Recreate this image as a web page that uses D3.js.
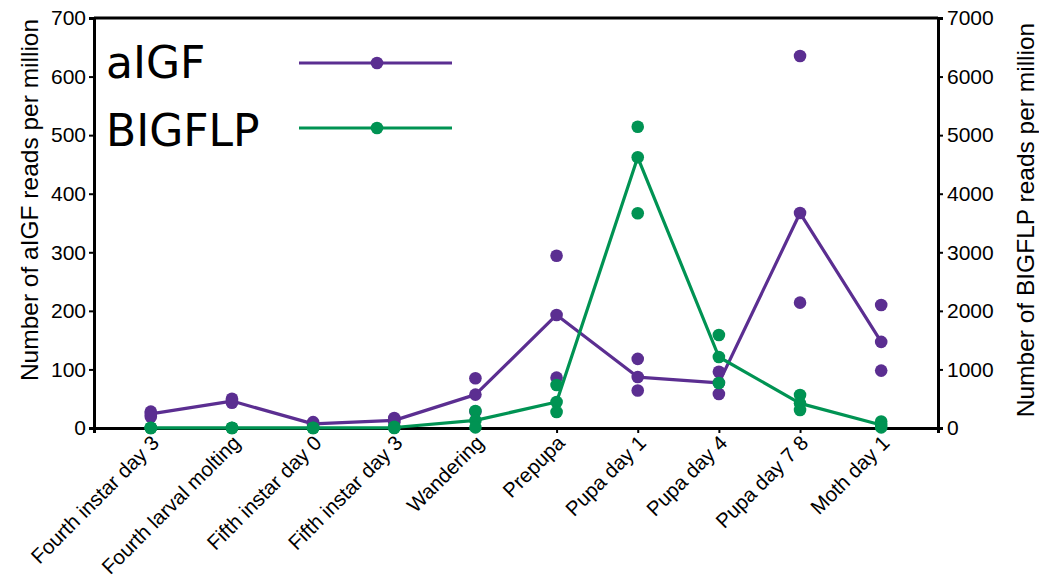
<!DOCTYPE html>
<html>
<head>
<meta charset="utf-8">
<script src="https://cdn.jsdelivr.net/npm/d3@7"></script>
<style>
  html, body { margin: 0; padding: 0; background: #fff; }
  svg { display: block; }
  .tick text { font-family: "Liberation Sans", Arial, sans-serif; font-size: 21px; fill: #000; }
  .x-axis .tick text { font-size: 20.5px; }
  .axis-title { font-family: "Liberation Sans", Arial, sans-serif; font-size: 24.5px; fill: #000; }
  .legend-label { font-family: "DejaVu Sans", sans-serif; font-size: 44px; fill: #000; }
</style>
</head>
<body>
<svg id="chart" width="1039" height="578"></svg>
<script>
// Developmental stages (x categories)
const stages = [
  "Fourth instar day 3", "Fourth larval molting", "Fifth instar day 0",
  "Fifth instar day 3", "Wandering", "Prepupa", "Pupa day 1",
  "Pupa day 4", "Pupa day 7 8", "Moth day 1"
];

// Replicate read counts per stage (reads per million)
const aigfReplicates = [
  [28, 24, 19], [50, 46, 43], [10, 7, 5], [17, 13, 10], [85, 57, 28],
  [294, 193, 86], [118, 87, 64], [96, 77, 58], [635, 367, 214], [210, 147, 98]
];
const bigflpReplicates = [
  [3, 1, 0], [3, 1, 0], [3, 1, 0], [20, 8, 0], [290, 130, 10],
  [734, 444, 273], [5144, 4622, 3666], [1588, 1212, 768], [563, 421, 307], [110, 50, 10]
];

// Axis tick values
const leftTicks = [0, 100, 200, 300, 400, 500, 600, 700];
const rightTicks = [0, 1000, 2000, 3000, 4000, 5000, 6000, 7000];

const purple = "#5b2e91";
const green = "#009353";

const svg = d3.select("#chart");
const plotLeft = 94, plotRight = 938, plotTop = 18, plotBottom = 428;

const x = d3.scalePoint().domain(stages).range([plotLeft, plotRight]).padding(0.7);
const yL = d3.scaleLinear().domain([0, 700]).range([plotBottom, plotTop]);
const yR = d3.scaleLinear().domain([0, 7000]).range([plotBottom, plotTop]);

// Frame top edge
svg.append("line")
  .attr("x1", plotLeft).attr("x2", plotRight).attr("y1", plotTop).attr("y2", plotTop)
  .attr("stroke", "#000").attr("stroke-width", 3);

function styleAxis(g) {
  g.select(".domain").attr("stroke", "#000").attr("stroke-width", 3);
  g.selectAll(".tick line").attr("stroke", "#000").attr("stroke-width", 2);
  g.selectAll(".tick text").attr("font-family", null).attr("font-size", null);
}

// Left axis
svg.append("g").attr("transform", `translate(${plotLeft},0)`)
  .call(d3.axisLeft(yL).tickValues(leftTicks).tickFormat(d3.format("d"))
    .tickSize(5).tickSizeOuter(5).tickPadding(3))
  .call(styleAxis);

// Right axis
svg.append("g").attr("transform", `translate(${plotRight},0)`)
  .call(d3.axisRight(yR).tickValues(rightTicks).tickFormat(d3.format("d"))
    .tickSize(5).tickSizeOuter(5).tickPadding(4))
  .call(styleAxis);

// Bottom axis with rotated stage labels
svg.append("g").attr("class", "x-axis").attr("transform", `translate(0,${plotBottom})`)
  .call(d3.axisBottom(x).tickSize(5).tickSizeOuter(5))
  .call(styleAxis)
  .call(g => g.selectAll(".tick text")
    .attr("x", 0).attr("y", 0).attr("dy", "0.35em")
    .attr("transform", "translate(4,11) rotate(-45)")
    .style("text-anchor", "end"));

// Axis titles
svg.append("text").attr("class", "axis-title")
  .attr("transform", "translate(38,200) rotate(-90)")
  .attr("text-anchor", "middle")
  .text("Number of aIGF reads per million");
svg.append("text").attr("class", "axis-title")
  .attr("transform", "translate(1034,220) rotate(-90)")
  .attr("text-anchor", "middle")
  .text("Number of BIGFLP reads per million");

// Series: line through the median replicate, dots for every replicate
function drawSeries(reps, y, color) {
  const medians = reps.map((r, i) => ({ stage: stages[i], v: d3.median(r) }));
  const line = d3.line().x(d => x(d.stage)).y(d => y(d.v));
  svg.append("path").datum(medians)
    .attr("d", line).attr("fill", "none")
    .attr("stroke", color).attr("stroke-width", 3.2)
    .attr("stroke-linejoin", "round");
  const pts = reps.flatMap((r, i) => r.map(v => ({ stage: stages[i], v })));
  svg.append("g").selectAll("circle").data(pts).join("circle")
    .attr("cx", d => x(d.stage)).attr("cy", d => y(d.v))
    .attr("r", 6.3).attr("fill", color);
}
drawSeries(aigfReplicates, yL, purple);
drawSeries(bigflpReplicates, yR, green);

// Legend
const legend = [
  { name: "aIGF", color: purple, y: 63, base: 78 },
  { name: "BIGFLP", color: green, y: 128, base: 146 }
];
const lg = svg.append("g");
legend.forEach(d => {
  lg.append("text").attr("class", "legend-label")
    .attr("x", 106).attr("y", d.base).text(d.name);
  lg.append("line").attr("x1", 299).attr("x2", 452).attr("y1", d.y).attr("y2", d.y)
    .attr("stroke", d.color).attr("stroke-width", 3);
  lg.append("circle").attr("cx", 377).attr("cy", d.y).attr("r", 6.3).attr("fill", d.color);
});
</script>
</body>
</html>
